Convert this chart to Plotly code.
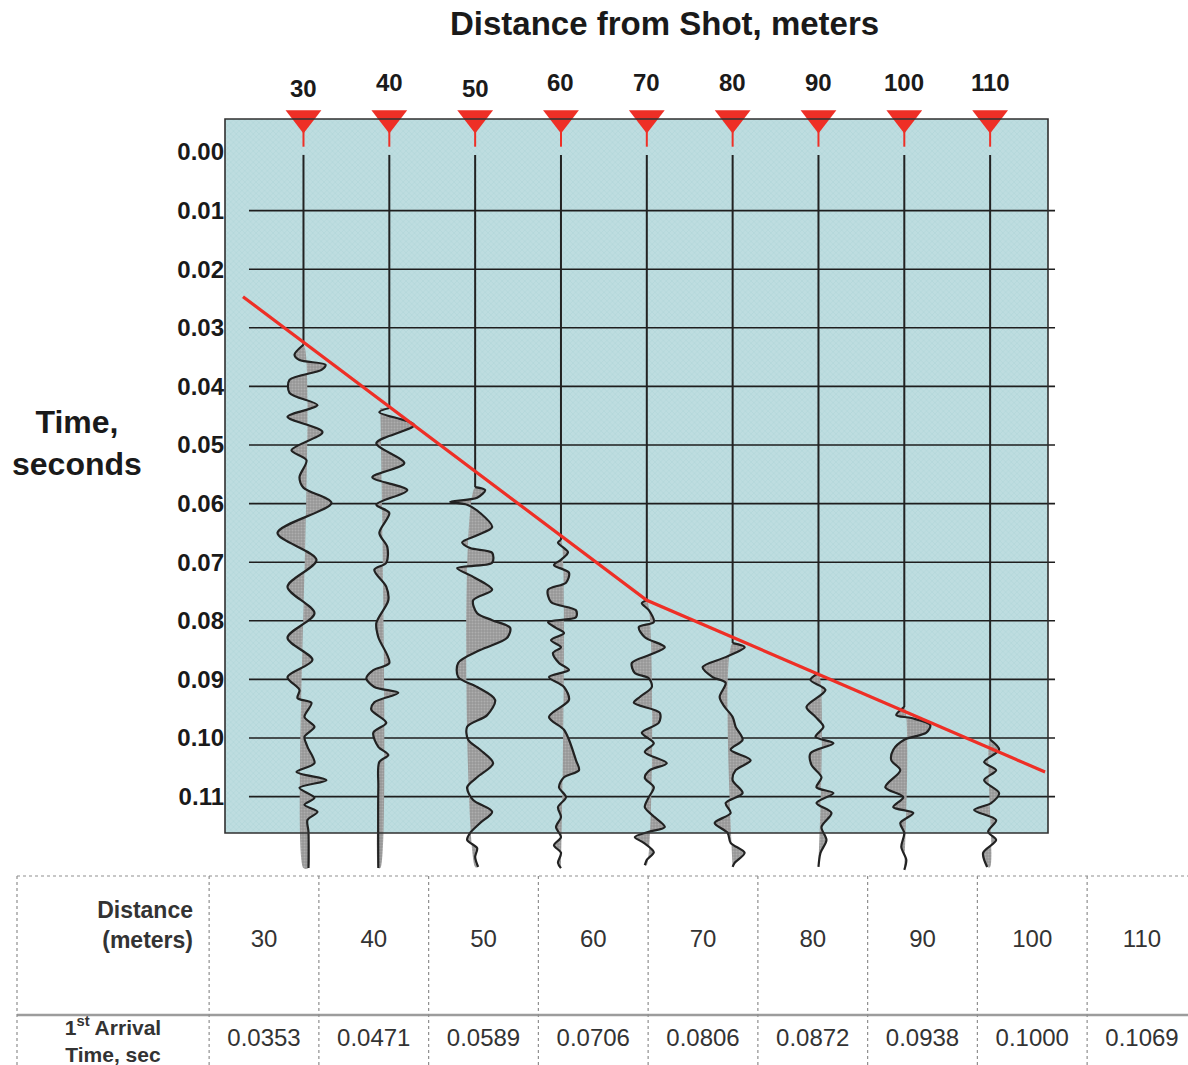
import plotly.graph_objects as go

W, H = 1188, 1065
FONT = "Liberation Sans, Arial, sans-serif"

# ---------------- data ----------------
distances = [30, 40, 50, 60, 70, 80, 90, 100, 110]
arrival_times = ["0.0353", "0.0471", "0.0589", "0.0706", "0.0806",
                 "0.0872", "0.0938", "0.1000", "0.1069"]
time_ticks = [0.00, 0.01, 0.02, 0.03, 0.04, 0.05, 0.06, 0.07, 0.08, 0.09, 0.10, 0.11]
time_tick_labels = ["0.00", "0.01", "0.02", "0.03", "0.04", "0.05",
                    "0.06", "0.07", "0.08", "0.09", "0.10", "0.11"]

# picked first-arrival line (distance m, time s)
pick_x = [22.95, 70.0, 116.4]
pick_t = [0.0247, 0.0765, 0.1058]

# wiggle traces: time (s) and amplitude (relative units)
t30 = [0.0005, 0.0329, 0.0346, 0.0355, 0.0363, 0.0372, 0.0389, 0.0411, 0.0432, 0.0452,
       0.0478, 0.0509, 0.0526, 0.0555, 0.0573, 0.0599, 0.0650, 0.0696, 0.0742, 0.0787,
       0.0829, 0.0867, 0.0896, 0.0918, 0.0932, 0.0940, 0.0964, 0.0981, 0.0998, 0.1015,
       0.1043, 0.1058, 0.1072, 0.1085, 0.1102, 0.1114, 0.1126, 0.1140, 0.1160, 0.1222]
a30 = [0, 0, -9, -4, 22, 18, -14, -14, 14, -16,
       19, -12, 3, -4, 0, 28, -26, 13, -16, 11,
       -16, 9, -16, -4, -6, 8, 1, 11, 1, 4,
       11, -7, 23, -4, 11, 1, 14, 4, 5, 5]

t40 = [0.0005, 0.0437, 0.0444, 0.0466, 0.0497, 0.0531, 0.0555, 0.0577, 0.0602, 0.0616,
       0.0650, 0.0674, 0.0701, 0.0713, 0.0742, 0.0765, 0.0804, 0.0828, 0.0872, 0.0884,
       0.0898, 0.0913, 0.0923, 0.0939, 0.0952, 0.0974, 0.0991, 0.1015, 0.1029, 0.1041,
       0.1084, 0.1222]
a40 = [0, 0, -10, 25, -13, 15, -17, 18, -13, 0,
       -10, -2, -3, -15, -3, -1, -13, -11, 0, -16,
       -23, -15, 9, -15, -18, -3, -16, -11, -1, -10,
       -11, -11]

t50 = [0.0005, 0.0572, 0.0577, 0.0590, 0.0597, 0.0602, 0.0616, 0.0640, 0.0654, 0.0666,
       0.0676, 0.0684, 0.0701, 0.0710, 0.0725, 0.0747, 0.0765, 0.0787, 0.0799, 0.0812,
       0.0829, 0.0850, 0.0872, 0.0896, 0.0913, 0.0935, 0.0961, 0.0981, 0.1003, 0.1020,
       0.1043, 0.1067, 0.1084, 0.1106, 0.1126, 0.1145, 0.1162, 0.1174, 0.1188, 0.1203,
       0.1220]
a50 = [0, 0, 10, 2, -25, -8, 5, 17, 2, -13,
       -5, 17, 17, -18, -2, 17, -2, 2, 17, 35,
       32, 5, -17, -17, 2, 20, 12, -8, -7, 5,
       18, 2, -8, -2, 17, 5, -5, -8, 2, 0,
       3]

t60 = [0.0005, 0.0662, 0.0667, 0.0683, 0.0696, 0.0705, 0.0718, 0.0735, 0.0747, 0.0768,
       0.0782, 0.0794, 0.0802, 0.0812, 0.0821, 0.0833, 0.0845, 0.0855, 0.0872, 0.0884,
       0.0896, 0.0913, 0.0935, 0.0964, 0.0986, 0.1003, 0.1038, 0.1055, 0.1067, 0.1084,
       0.1101, 0.1118, 0.1135, 0.1152, 0.1169, 0.1183, 0.1196, 0.1213, 0.1222]
a60 = [0, 0, -3, 7, 0, -7, 8, 5, -13, -10,
       15, 15, -13, -5, 3, -10, 0, -8, -2, 8,
       -12, 3, 8, -12, 3, 8, 15, 18, 3, -2,
       5, -3, 0, -5, 0, -7, 0, -3, 0]

t70 = [0.0005, 0.0765, 0.0770, 0.0782, 0.0802, 0.0811, 0.0828, 0.0845, 0.0858, 0.0872,
       0.0889, 0.0898, 0.0913, 0.0930, 0.0940, 0.0957, 0.0974, 0.0991, 0.1009, 0.1024,
       0.1043, 0.1055, 0.1068, 0.1084, 0.1101, 0.1118, 0.1131, 0.1152, 0.1160, 0.1169,
       0.1179, 0.1195, 0.1208, 0.1217]
a70 = [0, 0, -5, 2, 7, -8, -2, 18, 3, -15,
       -12, 2, 5, -7, -13, 13, 12, -5, 7, -2,
       20, 3, -2, 7, 2, -2, 5, 18, 2, -12,
       -3, 7, 0, -2]

t80 = [0.0005, 0.0838, 0.0845, 0.0862, 0.0879, 0.0896, 0.0906, 0.0930, 0.0947, 0.0964,
       0.0981, 0.1003, 0.1020, 0.1038, 0.1055, 0.1072, 0.1094, 0.1111, 0.1128, 0.1145,
       0.1162, 0.1179, 0.1196, 0.1213, 0.1220]
a80 = [0, 0, 12, -7, -30, -20, -7, -13, -8, 0,
       3, 10, -2, 18, 3, 0, 10, -7, -2, -18,
       -5, -2, 12, 2, 0]

t90 = [0.0005, 0.0889, 0.0901, 0.0918, 0.0947, 0.0964, 0.0981, 0.0998, 0.1009, 0.1026,
       0.1046, 0.1067, 0.1084, 0.1094, 0.1111, 0.1128, 0.1152, 0.1174, 0.1196, 0.1220]
a90 = [0, 0, -8, 7, -12, -3, 5, -3, 15, -8,
       -7, 3, -2, 15, -2, 13, 3, 8, 2, 0]

t100 = [0.0005, 0.0947, 0.0961, 0.0966, 0.0978, 0.0991, 0.1003, 0.1020, 0.1038, 0.1055,
        0.1084, 0.1101, 0.1118, 0.1128, 0.1145, 0.1162, 0.1186, 0.1208, 0.1225]
a100 = [0, 0, -8, 7, 26, 22, 0, -11, -13, -4,
        -19, -1, -11, 9, -4, 0, -3, 2, 0]

t110 = [0.0005, 0.1003, 0.1020, 0.1041, 0.1055, 0.1072, 0.1094, 0.1111, 0.1123, 0.1140,
        0.1160, 0.1174, 0.1196, 0.1220]
a110 = [0, 0, 9, -6, 6, -6, 9, 1, -16, 6,
        -2, 6, -7, -3]

wiggle_t = [t30, t40, t50, t60, t70, t80, t90, t100, t110]
wiggle_a = [a30, a40, a50, a60, a70, a80, a90, a100, a110]
# reference (zero) line drift of each trace after the onset
fill_ref = [0, -9, 0, 0, 0, 0, 0, 0, 0]

# ---------------- layout geometry / style ----------------
GAIN = 1 / 8.583                   # amplitude units -> metres
X_LEFT, X_RIGHT = 20.856, 118.14   # x axis range (m)
T_AXIS_TOP, T_BOTTOM = -0.00887, 0.12304
BOX_TOP = -0.00563
BOX_RIGHT, BOX_BOTTOM = 116.74, 0.11621
GRID_X0, GRID_X1 = 23.65, 117.56
RED = "#ee2f26"
INK = "#222222"
SMOOTH = 0.85

fig = go.Figure()

# panel background with fine texture
fig.add_trace(go.Scatter(
    x=[X_LEFT, BOX_RIGHT, BOX_RIGHT, X_LEFT, X_LEFT],
    y=[BOX_TOP, BOX_TOP, BOX_BOTTOM, BOX_BOTTOM, BOX_TOP],
    mode="lines", line=dict(width=0), fill="toself", fillcolor="#b9dadd",
    fillpattern=dict(shape="x", bgcolor="#bedde0", fgcolor="#9fc8ce", size=4, solidity=0.25),
    hoverinfo="skip", showlegend=False))

# horizontal time lines
gx, gy = [], []
for t in time_ticks[1:]:
    gx += [GRID_X0, GRID_X1, None]
    gy += [t, t, None]
fig.add_trace(go.Scatter(x=gx, y=gy, mode="lines", line=dict(color="#1e1e1e", width=1.6),
                         hoverinfo="skip", showlegend=False))

# wiggle traces
for d, ts, amps, ref in zip(distances, wiggle_t, wiggle_a, fill_ref):
    xs = [d + a * GAIN for a in amps]
    k = 1  # onset index (quiet straight part before it)
    fx = xs[k:] + [d + ref * GAIN, d + ref * GAIN]
    fy = ts[k:] + [ts[-1], ts[k]]
    fig.add_trace(go.Scatter(
        x=fx, y=fy, mode="lines", line=dict(width=0, shape="spline", smoothing=SMOOTH),
        fill="toself", fillcolor="#9c9c9c",
        fillpattern=dict(shape=".", bgcolor="#979797", fgcolor="#c6c6c6", size=3, solidity=0.35),
        hoverinfo="skip", showlegend=False))
    # quiet part: straight
    fig.add_trace(go.Scatter(
        x=xs[:k + 1], y=ts[:k + 1], mode="lines", line=dict(color=INK, width=2),
        hoverinfo="skip", showlegend=False))
    # active part: smooth wiggle
    fig.add_trace(go.Scatter(
        x=xs[k:], y=ts[k:], mode="lines",
        line=dict(color=INK, width=2.2, shape="spline", smoothing=SMOOTH),
        hoverinfo="skip", showlegend=False))

# red stubs below the geophone triangles
sx, sy = [], []
for d in distances:
    sx += [d, d, None]
    sy += [-0.0037, -0.0009, None]
fig.add_trace(go.Scatter(x=sx, y=sy, mode="lines", line=dict(color=RED, width=2),
                         hoverinfo="skip", showlegend=False))

# first-arrival pick line
fig.add_trace(go.Scatter(x=pick_x, y=pick_t, mode="lines", line=dict(color=RED, width=3.2),
                         hoverinfo="skip", showlegend=False))

# geophone triangles
fig.add_trace(go.Scatter(x=distances, y=[-0.0058] * len(distances), mode="markers",
                         marker=dict(symbol="triangle-down", size=31, color=RED,
                                     line=dict(width=0)),
                         cliponaxis=False, hoverinfo="skip", showlegend=False))

# ---------------- table (second, full-figure subplot) ----------------
TFONT = dict(family=FONT, size=24, color="#333333")
col_idx = list(range(len(distances)))
fig.add_trace(go.Scatter(x=col_idx, y=[0] * len(col_idx), text=[str(d) for d in distances],
                         mode="text", textfont=TFONT,
                         xaxis="x2", yaxis="y2", hoverinfo="skip", showlegend=False))
fig.add_trace(go.Scatter(x=col_idx, y=[1] * len(col_idx), text=arrival_times,
                         mode="text", textfont=TFONT,
                         xaxis="x2", yaxis="y2", hoverinfo="skip", showlegend=False))
fig.add_trace(go.Scatter(x=[-0.647], y=[-0.141], text=["<b>Distance</b><br><b>(meters)</b>"],
                         mode="text", textposition="middle left",
                         textfont=dict(family=FONT, size=23, color="#333333"),
                         xaxis="x2", yaxis="y2", hoverinfo="skip", showlegend=False))
fig.add_trace(go.Scatter(x=[-1.376], y=[1.03],
                         text=["<b>1<sup>st</sup> Arrival</b><br><b>Time, sec</b>"],
                         mode="text", textposition="middle center",
                         textfont=dict(family=FONT, size=21, color="#333333"),
                         xaxis="x2", yaxis="y2", hoverinfo="skip", showlegend=False))

TBL_LEFT, TBL_RIGHT = -2.2506, 8.4191
TBL_TOP, TBL_SEP, TBL_BOT = -0.6566, 0.7475, 1.2525
shapes = []
dot = dict(color="#8f8f8f", width=1.2, dash="dot")
shapes.append(dict(type="line", xref="x2", yref="y2", x0=TBL_LEFT, x1=TBL_RIGHT,
                   y0=TBL_TOP, y1=TBL_TOP, line=dot))
shapes.append(dict(type="line", xref="x2", yref="y2", x0=TBL_LEFT, x1=TBL_RIGHT,
                   y0=TBL_SEP, y1=TBL_SEP, line=dict(color="#9c9c9c", width=2.5)))
for xv in [TBL_LEFT] + [i - 0.5 for i in range(len(distances) + 1)]:
    shapes.append(dict(type="line", xref="x2", yref="y2", x0=xv, x1=xv,
                       y0=TBL_TOP, y1=TBL_BOT, line=dot))
# panel frame
shapes.append(dict(type="rect", xref="paper", yref="paper",
                   x0=225 / W, x1=1048 / W, y0=1 - 833 / H, y1=1 - 119 / H,
                   line=dict(color="#303030", width=1.6), layer="above"))

annotations = [
    dict(text="<b>Distance from Shot, meters</b>", xref="paper", yref="paper",
         x=664 / W, y=1 - 24 / H, xanchor="center", yanchor="middle", showarrow=False,
         font=dict(family=FONT, size=33, color="#1a1a1a")),
    dict(text="<b>Time,<br>seconds</b>", xref="paper", yref="paper",
         x=77 / W, y=1 - 443 / H, xanchor="center", yanchor="middle",
         showarrow=False, align="center",
         font=dict(family=FONT, size=32, color="#1a1a1a")),
]
label_shift = [-6, 0, -6, 0, 0, 0, 0, 0, 0]
for d, s in zip(distances, label_shift):
    annotations.append(dict(text=f"<b>{d}</b>", xref="x", yref="paper", x=d,
                            y=1 - 82 / H, yshift=s, xanchor="center", yanchor="middle",
                            showarrow=False,
                            font=dict(family=FONT, size=24, color="#1a1a1a")))

fig.update_layout(
    width=W, height=H, autosize=False,
    margin=dict(l=0, r=0, t=0, b=0, pad=0),
    paper_bgcolor="white", plot_bgcolor="rgba(0,0,0,0)",
    showlegend=False,
    xaxis=dict(domain=[225 / W, 1060 / W], range=[X_LEFT, X_RIGHT], visible=False,
               anchor="y", fixedrange=True),
    yaxis=dict(domain=[1 - 873 / H, 1 - 100 / H], range=[T_BOTTOM, T_AXIS_TOP], anchor="x",
               tickvals=time_ticks, ticktext=[f"<b>{s}</b>" for s in time_tick_labels],
               tickfont=dict(family=FONT, size=24, color="#1a1a1a"),
               ticks="", showgrid=False, zeroline=False, showline=False),
    xaxis2=dict(domain=[0, 1], range=[-2.4055, 8.4191], visible=False, anchor="y2"),
    yaxis2=dict(domain=[0, 1], range=[1.2525, -9.505], visible=False, anchor="x2"),
    shapes=shapes, annotations=annotations,
)

fig.write_html("out.html", config={"displayModeBar": False},
               post_script="document.body.style.margin='0';document.body.style.overflow='hidden';")
